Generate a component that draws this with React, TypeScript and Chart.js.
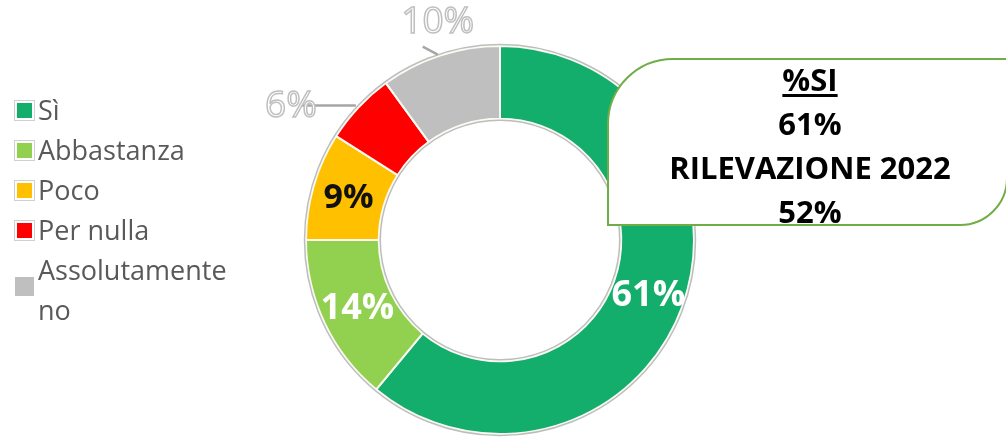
import React, { useEffect, useRef } from "react";
import { Chart, registerables } from "chart.js";

Chart.register(...registerables);

const categories = ["Sì", "Abbastanza", "Poco", "Per nulla", "Assolutamente no"];
const legendLines = [["Sì"], ["Abbastanza"], ["Poco"], ["Per nulla"], ["Assolutamente", "no"]];
const values = [61, 14, 9, 6, 10];
const colors = ["#14AE6C", "#92D050", "#FFC000", "#FF0000", "#BFBFBF"];
const valueLabels = ["61%", "14%", "9%", "6%", "10%"];
const calloutLines = ["%SI", "61%", "RILEVAZIONE 2022", "52%"];

// label style per slice: inside white, inside black, outside outlined
const labelModes = ["inWhite", "inWhite", "inBlack", "outLeft", "outTop"];

const labelPlugin = {
  id: "sliceLabels",
  afterDatasetsDraw(chart: any) {
    const ctx = chart.ctx;
    const meta = chart.getDatasetMeta(0);
    const arcs = meta.data;
    if (!arcs.length) return;
    const a0 = arcs[0].getProps(["x", "y", "outerRadius", "innerRadius"], true);
    ctx.save();
    ctx.strokeStyle = "#BDBDBD";
    ctx.lineWidth = 1.5;
    ctx.beginPath();
    ctx.arc(a0.x, a0.y, a0.outerRadius + 1.5, 0, Math.PI * 2);
    ctx.stroke();
    ctx.beginPath();
    ctx.arc(a0.x, a0.y, a0.innerRadius - 1.5, 0, Math.PI * 2);
    ctx.stroke();

    arcs.forEach((arc: any, i: number) => {
      const mode = labelModes[i];
      const text = valueLabels[i];
      if (mode === "inWhite" || mode === "inBlack") {
        const p = arc.tooltipPosition();
        ctx.font = mode === "inBlack" ? "bold 34px 'Open Sans'" : "bold 36px 'Open Sans'";
        ctx.fillStyle = mode === "inBlack" ? "#111111" : "#FFFFFF";
        ctx.textAlign = "center";
        ctx.textBaseline = "middle";
        ctx.fillText(text, p.x, p.y + 2);
      } else {
        const pr = arc.getProps(["x", "y", "startAngle", "endAngle", "outerRadius"], true);
        const mid = (pr.startAngle + pr.endAngle) / 2;
        const ex = pr.x + Math.cos(mid) * (pr.outerRadius + 1);
        const ey = pr.y + Math.sin(mid) * (pr.outerRadius + 1);
        let tx: number, ty: number;
        ctx.strokeStyle = "#A6A6A6";
        ctx.lineWidth = 2.5;
        ctx.beginPath();
        if (mode === "outLeft") {
          ctx.moveTo(ex - 2, ey - 1);
          ctx.lineTo(ex - 58, ey - 1);
          tx = ex - 67;
          ty = ey;
        } else {
          ctx.moveTo(ex - 2, ey);
          ctx.lineTo(ex - 17, ey - 8);
          tx = ex - 2;
          ty = ey - 32;
        }
        ctx.stroke();
        ctx.font = "37px 'Open Sans'";
        ctx.textAlign = "center";
        ctx.textBaseline = "middle";
        ctx.fillStyle = "#FFFFFF";
        ctx.fillText(text, tx, ty);
        ctx.strokeStyle = "#BFBFBF";
        ctx.lineWidth = 1.5;
        ctx.strokeText(text, tx, ty);
      }
    });
    ctx.restore();
  },
};

export default function App() {
  const canvasRef = useRef<HTMLCanvasElement | null>(null);

  useEffect(() => {
    document.body.style.margin = "0";
    const canvas = canvasRef.current;
    if (!canvas) return;
    const chart = new Chart(canvas, {
      type: "doughnut",
      data: {
        labels: categories,
        datasets: [
          {
            data: values,
            backgroundColor: colors,
            borderColor: "#FBFBF3",
            borderWidth: 2,
          },
        ],
      },
      options: {
        responsive: false,
        animation: false,
        cutout: "62.5%",
        layout: { padding: { left: 305, right: 311, top: 45, bottom: 4 } },
        plugins: {
          legend: { display: false },
          tooltip: { enabled: false },
        },
      },
      plugins: [labelPlugin],
    });
    return () => chart.destroy();
  }, []);

  return (
    <div
      style={{
        position: "fixed",
        left: 0,
        top: 0,
        width: 1006,
        height: 439,
        overflow: "hidden",
        background: "#FFFFFF",
        fontFamily: "'Open Sans', sans-serif",
      }}
    >
      <canvas ref={canvasRef} width={1006} height={439} style={{ position: "absolute", left: 0, top: 0 }} />
      <div style={{ position: "absolute", left: 13, top: 90, width: 250 }}>
        {legendLines.map((lines, i) => {
          const isLast = i === legendLines.length - 1;
          return (
            <div
              key={categories[i]}
              style={{
                display: "flex",
                alignItems: "center",
                height: lines.length * 40,
              }}
            >
              <div
                style={{
                  width: isLast ? 19 : 15,
                  height: isLast ? 19 : 15,
                  background: colors[i],
                  border: isLast ? "none" : "2px solid #FFFFFF",
                  outline: isLast ? "none" : "1px solid #D0D0D0",
                  margin: isLast ? "-8px 4px 0 2px" : "0 4px 0 2px",
                  flexShrink: 0,
                }}
              />
              <div style={{ fontSize: 27, lineHeight: "40px", color: "#595959" }}>
                {lines.map((l) => (
                  <div key={l}>{l}</div>
                ))}
              </div>
            </div>
          );
        })}
      </div>
      <div
        style={{
          position: "absolute",
          left: 607,
          top: 58,
          width: 397,
          height: 164,
          border: "2px solid #70AD47",
          borderRadius: "66px 0 48px 0",
          background: "#FFFFFF",
        }}
      />
      <div
        style={{
          position: "absolute",
          left: 610,
          top: 57,
          width: 400,
          textAlign: "center",
          fontWeight: "bold",
          fontSize: 31,
          lineHeight: "44px",
          color: "#000000",
        }}
      >
        {calloutLines.map((l, i) => (
          <div key={l} style={{ textDecoration: i === 0 ? "underline" : "none", textUnderlineOffset: 3 }}>
            {l}
          </div>
        ))}
      </div>
    </div>
  );
}
